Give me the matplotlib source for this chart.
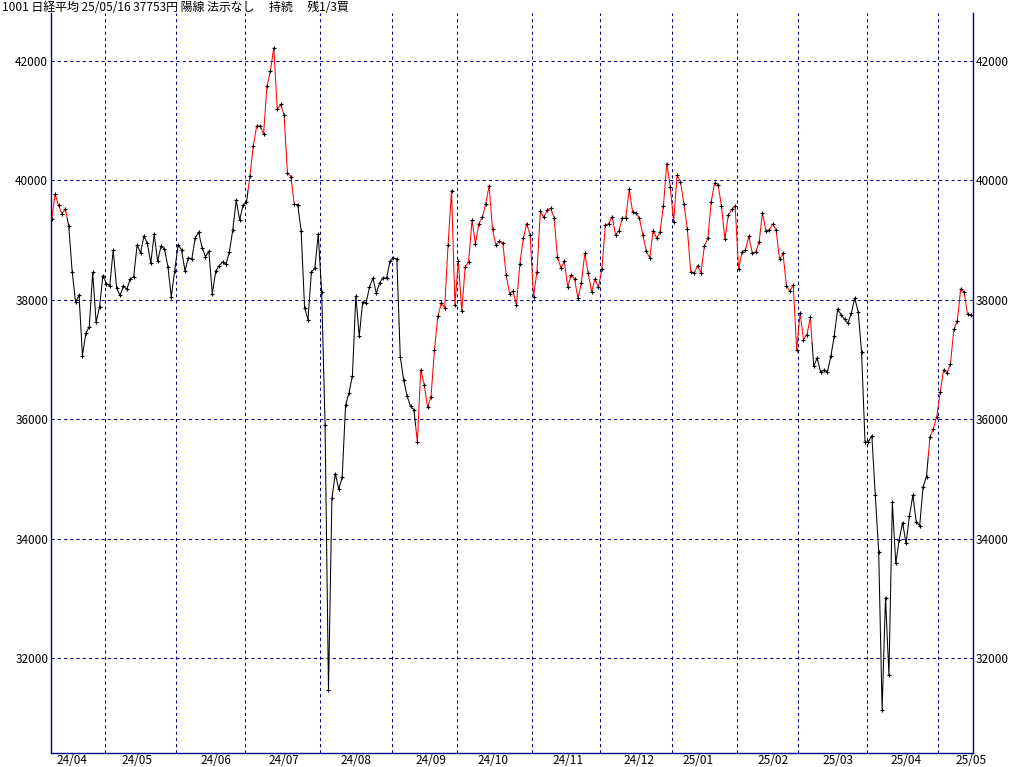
import numpy as np
import pandas as pd
import matplotlib
matplotlib.use("Agg")
from matplotlib import pyplot as plt
from matplotlib.collections import LineCollection

plt.rcParams['font.family'] = ['Noto Sans CJK JP', 'DejaVu Sans']

# Tokyo market holidays inside the range (used to build the trading-day axis)
holidays = ["2024-04-29", "2024-05-03", "2024-05-06", "2024-07-15", "2024-08-12",
            "2024-09-16", "2024-09-23", "2024-10-14", "2024-11-04", "2024-12-31",
            "2025-01-01", "2025-01-02", "2025-01-03", "2025-01-13", "2025-02-11",
            "2025-02-24", "2025-03-20", "2025-04-29", "2025-05-05", "2025-05-06"]

# daily closes (yen)
apr24 = [39347, 39773, 39582, 39443, 39524, 39233, 38471, 37962, 38079, 37068, 37439,
         37552, 38460, 37628, 37880, 38406]
may24 = [38274, 38236, 38835, 38202, 38074, 38229, 38179, 38356, 38386, 38920, 38787,
         39070, 38947, 38617, 39103, 38646, 38900, 38855, 38557, 38054, 38488]
jun24 = [38923, 38837, 38490, 38704, 38684, 39038, 39135, 38877, 38721, 38815, 38102,
         38482, 38571, 38634, 38596, 38805, 39174, 39668, 39342, 39583]
jul24 = [39631, 40074, 40581, 40914, 40913, 40781, 41580, 41832, 42224, 41191, 41275,
         41098, 40126, 40064, 39599, 39594, 39155, 37870, 37668, 38469, 38526, 39102]
aug24 = [38126, 35910, 31458, 34675, 35090, 34831, 35025, 36233, 36443, 36727, 38063,
         37389, 37964, 37952, 38212, 38365, 38110, 38289, 38372, 38363, 38648]
sep24 = [38701, 38686, 37048, 36658, 36392, 36216, 36159, 35620, 36833, 36582, 36204,
         36380, 37155, 37724, 37941, 37871, 38926, 39830, 37920]
oct24 = [38652, 37809, 38552, 38636, 39333, 38938, 39278, 39381, 39606, 39911, 39181,
         38911, 38982, 38955, 38412, 38105, 38143, 37914, 38606, 39028, 39278, 39081]
nov24 = [38054, 38475, 39481, 39381, 39501, 39534, 39377, 38722, 38536, 38643, 38221,
         38415, 38353, 38027, 38284, 38780, 38443, 38135, 38349, 38208]
dec24 = [38514, 39249, 39277, 39396, 39092, 39161, 39368, 39373, 39850, 39471, 39458,
         39365, 39082, 38814, 38702, 39161, 39037, 39131, 39569, 40281, 39895]
jan25 = [39308, 40084, 39981, 39606, 39191, 38475, 38445, 38573, 38452, 38903, 39028,
         39647, 39959, 39932, 39566, 39017, 39415, 39514, 39573]
feb25 = [38520, 38799, 38832, 39067, 38787, 38801, 38964, 39462, 39150, 39174, 39271,
         39165, 38679, 38777, 38238, 38143, 38256, 37156]
mar25 = [37786, 37332, 37418, 37705, 36887, 37028, 36793, 36820, 36791, 37054, 37397,
         37846, 37752, 37677, 37608, 37780, 38028, 37800, 37121, 35618]
apr25 = [35625, 35726, 34736, 33781, 31137, 33013, 31715, 34609, 33586, 33983, 34268,
         33920, 34378, 34730, 34280, 34220, 34869, 35040, 35706, 35840, 36045]
may25 = [36452, 36831, 36780, 36929, 37504, 37644, 38183, 38128, 37756, 37753]

# periods where the signal is 陽線 (line drawn red)
red_periods = [("2024-04-08", "2024-04-12"), ("2024-07-02", "2024-07-22"),
               ("2024-09-11", "2025-03-06"), ("2025-04-25", "2025-05-16")]

title = "1001 日経平均 25/05/16 37753円 陽線 法示なし　 持続　 残1/3買"

closes = np.array(apr24 + may24 + jun24 + jul24 + aug24 + sep24 + oct24 + nov24
                  + dec24 + jan25 + feb25 + mar25 + apr25 + may25, dtype=float)
dates = pd.bdate_range("2024-04-08", "2025-05-16", freq="C", holidays=holidays)
n = min(len(dates), len(closes))
dates = dates[:n]
closes = closes[:n]
x = np.arange(n)

red = np.zeros(n, dtype=bool)
for s, e in red_periods:
    red |= (dates >= pd.Timestamp(s)) & (dates <= pd.Timestamp(e))

fig = plt.figure(figsize=(10.24, 7.67), dpi=100)
ax = fig.add_axes([51 / 1024, 1 - 753 / 767, 922 / 1024, 740 / 767])

# each point colours the half segments on either side of it
segs = []
cols = []
for i in range(n):
    p = []
    if i > 0:
        p.append(((x[i - 1] + x[i]) / 2, (closes[i - 1] + closes[i]) / 2))
    p.append((x[i], closes[i]))
    if i < n - 1:
        p.append(((x[i] + x[i + 1]) / 2, (closes[i] + closes[i + 1]) / 2))
    segs.append(p)
    cols.append('#ff0000' if red[i] else 'black')
ax.add_collection(LineCollection(segs, colors=cols, linewidths=0.75, zorder=3))
ax.plot(x, closes, '+', color='black', ms=3.3, mew=0.8, zorder=4)

# month boundaries and labels
months = pd.Series(x, index=dates)
bounds = []
lab_pos = []
lab_txt = []
for key, grp in months.groupby([dates.year, dates.month]):
    idx = grp.values
    if idx[0] > 0:
        bounds.append(idx[0] - 0.5)
    mid = grp[grp.index.day >= 15]
    pos = mid.values[0] if len(mid) else idx[-1]
    lab_pos.append(pos + 1)
    lab_txt.append("%02d/%02d" % (key[0] % 100, key[1]))

for b in bounds:
    ax.axvline(b, color='#000090', lw=0.75, ls=(0, (3, 3)), zorder=1)
yt = [32000, 34000, 36000, 38000, 40000, 42000]
for v in yt:
    ax.axhline(v, color='#000090', lw=0.75, ls=(0, (3, 3)), zorder=1)

ax.set_xlim(-0.2, 269.6)
ax.set_ylim(30410, 42805)
ax.set_yticks(yt)
ax.set_yticklabels([str(v) for v in yt])
ax.set_xticks(lab_pos)
ax.set_xticklabels(lab_txt)
ax.tick_params(axis='y', length=0, pad=2, labelsize=8.5, labelright=True)
ax.tick_params(axis='x', length=0, pad=1, labelsize=8.5)

for side in ['left', 'right', 'bottom']:
    ax.spines[side].set_color('#000080')
    ax.spines[side].set_linewidth(1.0)
ax.spines['top'].set_visible(False)

fig.text(2 / 1024, 1 - 1 / 767, title, ha='left', va='top', fontsize=8.6)

plt.savefig("out.png", dpi=100)
